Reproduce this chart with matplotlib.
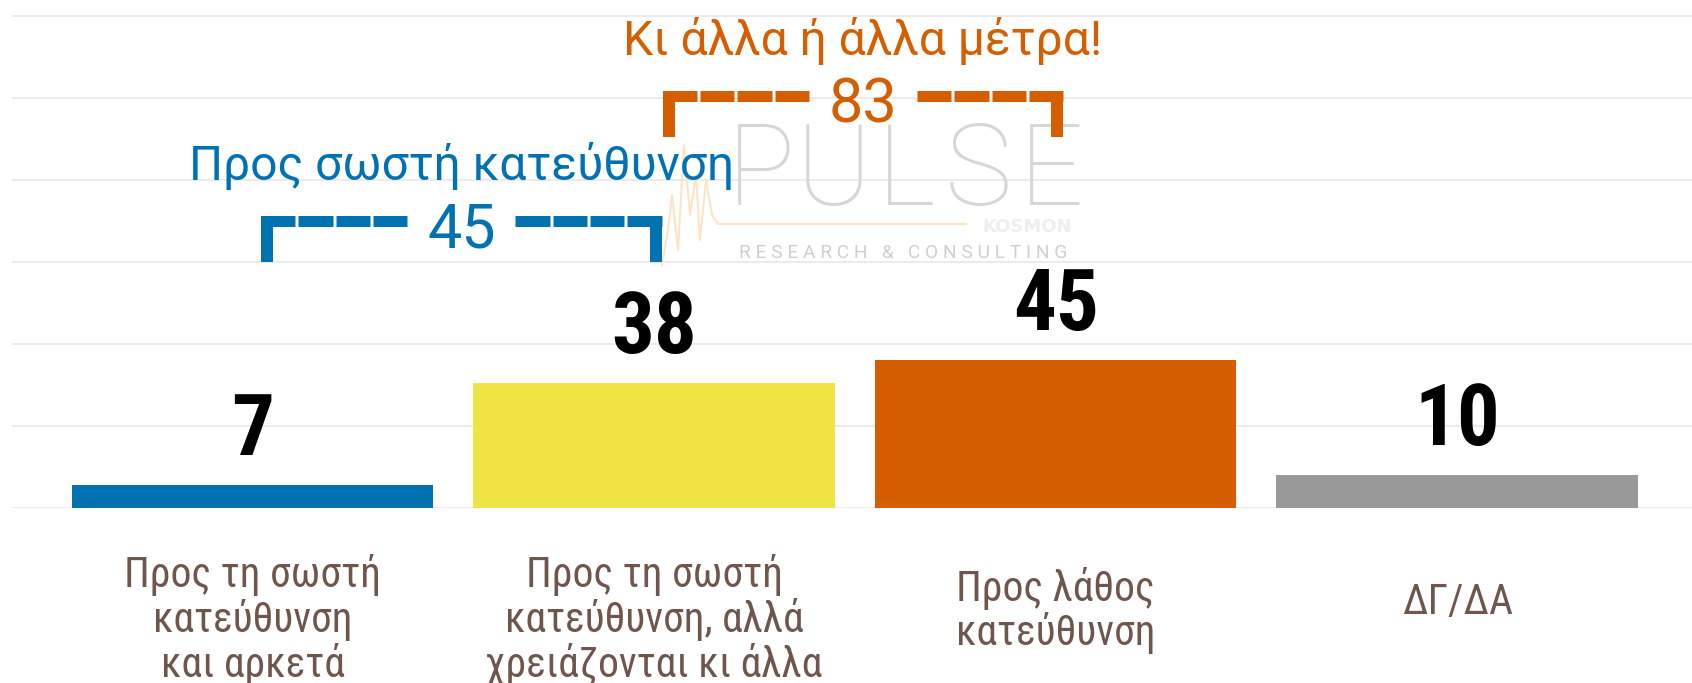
import matplotlib
matplotlib.use("Agg")
import matplotlib.pyplot as plt
from matplotlib import font_manager as fm
from matplotlib.transforms import IdentityTransform

# ---------------- data ----------------
category_lines = [
    ["Προς τη σωστή", "κατεύθυνση", "και αρκετά"],
    ["Προς τη σωστή", "κατεύθυνση, αλλά", "χρειάζονται κι άλλα"],
    ["Προς λάθος", "κατεύθυνση"],
    ["ΔΓ/ΔΑ"],
]
values = [7, 38, 45, 10]
bar_colors = ["#0072B2", "#F0E442", "#D55E00", "#999999"]

group_titles = ["Προς σωστή κατεύθυνση", "Κι άλλα ή άλλα μέτρα!"]
group_members = [(0, 1), (1, 2)]
group_totals = [45, 83]
group_colors = ["#0072B2", "#D55E00"]

grid_values = [0, 25, 50, 75, 100, 125, 150]

# ---------------- fonts ----------------
names = {f.name for f in fm.fontManager.ttflist}
NARROW = "Liberation Sans Narrow" if "Liberation Sans Narrow" in names else (
    "Roboto Condensed" if "Roboto Condensed" in names else "Liberation Sans")
TITLE_FONT = "Roboto" if "Roboto" in names else "DejaVu Sans"

W, H, DPI = 1692, 683, 100
PT = 72.0 / DPI  # points per pixel

fig = plt.figure(figsize=(W / DPI, H / DPI), dpi=DPI)
fig.patch.set_facecolor("white")

base_px = 508          # baseline y (from top) in pixels
px_per_unit = 3.28
ax = fig.add_axes([12 / W, (H - base_px) / H, 1 - 12 / W, base_px / H])
ax.set_ylim(0, base_px / px_per_unit)
ax.set_xlim(-0.599, 3.585)
PX_X = 1 / 401.5
PX_Y = 1 / px_per_unit

for s in ax.spines.values():
    s.set_visible(False)
ax.set_yticks(grid_values)
ax.set_xticks([])
ax.tick_params(left=False, labelleft=False, bottom=False, labelbottom=False)
ax.yaxis.grid(True, color="#ebebeb", lw=2 * PT)
ax.set_axisbelow(True)

x = list(range(len(values)))
ax.bar(x, values, width=0.9, color=bar_colors, zorder=3)

# value labels
for xi, v in zip(x, values):
    ax.annotate(str(v), (xi, v), xytext=(0, 30 * PT), textcoords="offset points",
                ha="center", va="baseline", fontsize=61, fontweight="bold",
                family=NARROW, color="black", zorder=5)

# category labels
for xi, lines in zip(x, category_lines):
    n = len(lines)
    first = (614 - 13.5 * (n - 1)) - base_px
    for k, line in enumerate(lines):
        ax.annotate(line, (xi, 0), xytext=(0, -(first + 45 * k) * PT),
                    textcoords="offset points", ha="center", va="baseline",
                    fontsize=30, color="#6e564d", family=NARROW,
                    annotation_clip=False)

# ---------------- watermark ----------------
def py(y_top):
    return H - y_top

tr = IdentityTransform()
for k, ch in enumerate("PULSE"):
    ax.text(761 + 72.5 * k, py(205), ch, transform=tr, ha="center", va="baseline",
            fontsize=82, fontweight=100, family=TITLE_FONT, color="#d6d6d6", zorder=1)
ax.text(903, py(258), "R E S E A R C H   &   C O N S U L T I N G", transform=tr,
        ha="center", va="baseline", fontsize=13.8, family=TITLE_FONT,
        color="#cfcfcf", zorder=1)
ax.text(1072, py(232), "KOSMON", transform=tr, ha="right", va="baseline",
        fontsize=13, fontweight="bold", family="DejaVu Sans", color="#eeeeee", zorder=1)
pulse_x = [662, 668, 672, 678, 684, 690, 696, 700, 706, 712, 718, 966]
pulse_y = [265, 230, 195, 250, 145, 215, 175, 240, 180, 215, 224, 224]
ax.plot(pulse_x, [py(v) for v in pulse_y], transform=tr, color="#fde3c6",
        lw=2 * PT, zorder=1)

# ---------------- brackets ----------------
for title, (i, j), tot, col in zip(group_titles, group_members, group_totals, group_colors):
    yb = tot + 42.5
    xl, xr = i + 0.036, j + 0.004
    xm = (xl + xr) / 2
    hth, vth = 11, 12
    ybot = yb - 12.4
    for xv in (xl, xr):
        ax.plot([xv, xv], [ybot, yb + hth / 2 * PX_Y], color=col, lw=vth * PT,
                solid_capstyle="butt", zorder=4)
    gap_half = 54 * PX_X
    parts = [(xl - vth / 2 * PX_X, xm - gap_half), (xm + gap_half, xr + vth / 2 * PX_X)]
    for a, b in parts:
        npc, g = 4, 3 * PX_X
        seg = (b - a - (npc - 1) * g) / npc
        for k in range(npc):
            s0 = a + k * (seg + g)
            ax.plot([s0, s0 + seg], [yb, yb], color=col, lw=hth * PT,
                    solid_capstyle="butt", zorder=4)
    ax.text(xm, yb - 8, str(tot), ha="center", va="baseline", fontsize=44,
            color=col, family=TITLE_FONT, zorder=5)
    ax.text(xm, yb + 12.5, title, ha="center", va="baseline", fontsize=34.5,
            color=col, family=TITLE_FONT, zorder=5)

fig.savefig("out.png", dpi=DPI, facecolor="white")
